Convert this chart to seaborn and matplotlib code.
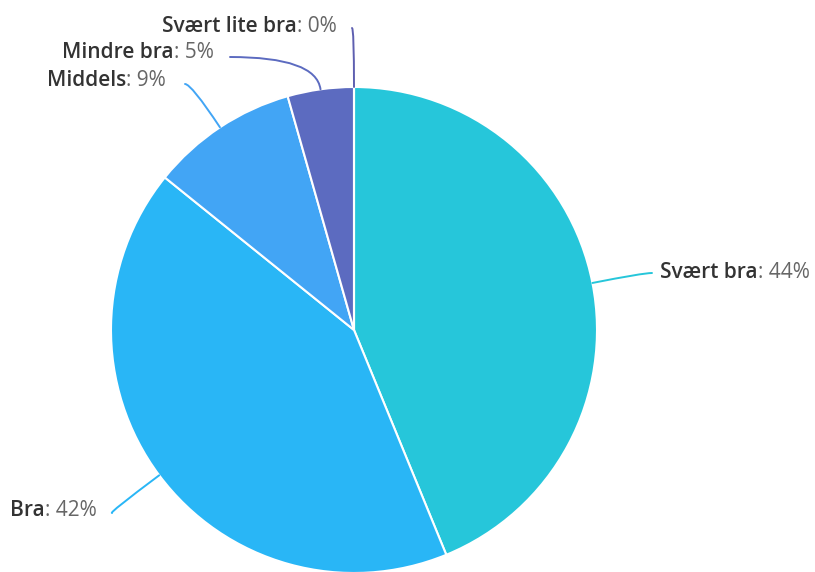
import matplotlib
matplotlib.use('Agg')
import matplotlib.pyplot as plt
import seaborn as sns
import numpy as np

# values (share of answers, %)
labels = ['Svært bra', 'Bra', 'Middels', 'Mindre bra', 'Svært lite bra']
values = [43.8, 42.0, 9.8, 4.4, 0.0]
shown = ['44%', '42%', '9%', '5%', '0%']
colors = ['#26C6DA', '#29B6F6', '#42A5F5', '#5C6BC0', '#5E5FB0']

sns.set_theme(style='white')
plt.rcParams['font.family'] = ['Open Sans', 'DejaVu Sans']

W, H = 815, 572
fig = plt.figure(figsize=(W / 100, H / 100), dpi=100)
ax = fig.add_axes([0, 0, 1, 1])

cx, cy, r = 354, H - 330, 243
wedges, _ = ax.pie(values, colors=sns.color_palette(colors), startangle=90, counterclock=False,
                   radius=r, center=(cx, cy),
                   wedgeprops=dict(edgecolor='white', linewidth=1.5))
ax.set_xlim(0, W)
ax.set_ylim(0, H)
ax.set_aspect('equal')
ax.axis('off')

# label text spots (left x, y from top) and where the connector meets the text
text_pos = [(660, 272), (10, 511), (47, 81), (62, 53), (162, 26)]
line_end = [(652, 273), (112, 513), (185, 84), (230, 57), (352, 28)]

fs = 15
fig.canvas.draw()
rend = fig.canvas.get_renderer()
for w, lab, s, (tx, ty), (lx, ly), c in zip(wedges, labels, shown, text_pos, line_end, colors):
    mid = (w.theta1 + w.theta2) / 2
    m = np.deg2rad(mid)
    ax_pt = (cx + r * np.cos(m), cy + r * np.sin(m))
    ax.annotate('', xy=ax_pt, xytext=(lx, H - ly),
                arrowprops=dict(arrowstyle='-', color=c, lw=1.4, shrinkA=0, shrinkB=0,
                                connectionstyle=f'angle3,angleA=0,angleB={mid:.1f}'))
    t = ax.text(tx, H - ty, lab, fontsize=fs, fontweight='semibold', color='#333333',
                ha='left', va='center')
    bb = t.get_window_extent(rend)
    ax.text(bb.x1, H - ty, ': ' + s, fontsize=fs, color='#666666', ha='left', va='center')

fig.savefig('out.png', dpi=100)
